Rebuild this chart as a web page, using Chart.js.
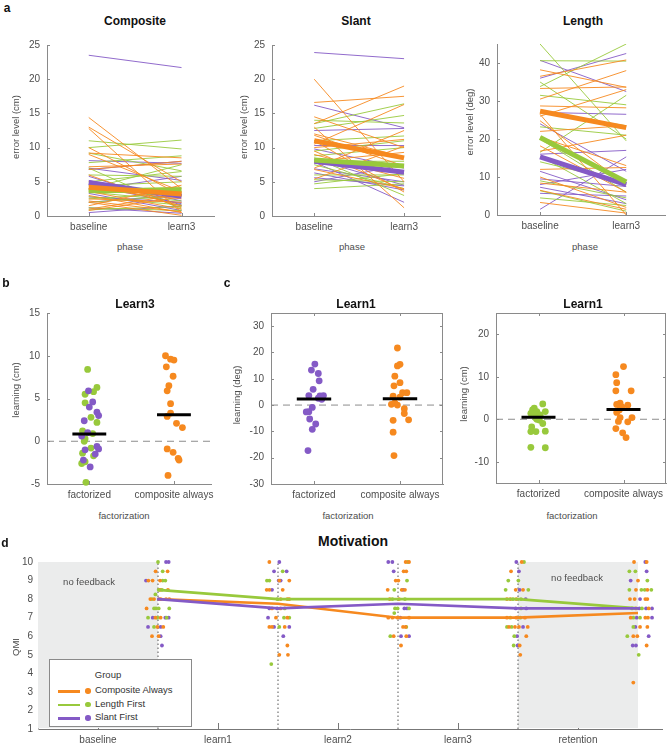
<!DOCTYPE html>
<html>
<head>
<meta charset="utf-8">
<script src="https://cdn.jsdelivr.net/npm/chart.js@4"></script>
<style>
  body { margin: 0; background: #fff; }
  #fig { position: relative; width: 670px; height: 745px; overflow: hidden; font-family: "Liberation Sans", Arial, sans-serif; }
  #fig canvas { position: absolute; }
  .t { position: absolute; white-space: nowrap; transform: translate(-50%, -50%); color: #4d4d4d; font-size: 9.5px; }
  .title { font-weight: bold; font-size: 12px; color: #111; }
  .big { font-size: 14px; }
  .letter { font-weight: bold; font-size: 12px; color: #111; }
  .rot { transform: translate(-50%, -50%) rotate(-90deg); }
  #legend { position: absolute; left: 49px; top: 659px; width: 141px; height: 66px; border: 1px solid #8a8a8a; background: #fff; font-size: 9.5px; color: #333; }
  #legend .row { position: absolute; left: 0; height: 12px; }
  #legend .ln { position: absolute; left: 8px; top: 5px; width: 22px; height: 2.5px; }
  #legend .dt { position: absolute; left: 35px; top: 3px; width: 5.5px; height: 5.5px; border-radius: 50%; }
  #legend .lb { position: absolute; left: 45px; top: -1px; white-space: nowrap; }
</style>
</head>
<body>
<div id="fig"></div>
<script>
// colours used across the figure
const ORANGE = '#F6891F', GREEN = '#98C93C', PURPLE = '#845AC6';
const AXIS = '#8a8a8a', SHADE = '#EBECEC';
const FONT = '"Liberation Sans", Arial, sans-serif';

// ---------- a: error level, baseline -> learn3 ----------
const phaseLabels = ['baseline', 'learn3'];
const cmTicks = [0, 5, 10, 15, 20, 25];
const degTicks = [0, 10, 20, 30, 40];

const compOrangeBase = [14.4, 13.0, 12.8, 10.0, 9.2, 7.2, 6.8, 5.0, 4.0, 3.0, 2.5, 2.0, 1.5, 1.0, 0.8, 6.0, 9.0, 3.6, 2.2];
const compOrangeL3   = [4.0, 5.0, 0.5, 3.0, 8.5, 7.6, 8.0, 1.5, 2.5, 0.5, 2.0, 0.1, 4.5, 3.2, 2.8, 1.2, 3.6, 1.0, 0.6];
const compGreenBase  = [11.0, 10.0, 9.2, 7.8, 7.0, 6.0, 5.0, 4.4, 3.8, 3.5, 2.8, 2.0, 1.2, 0.9, 4.0, 2.5];
const compGreenL3    = [9.8, 11.1, 6.6, 8.8, 1.0, 5.8, 6.5, 5.0, 4.2, 2.2, 1.6, 3.0, 0.8, 1.4, 7.5, 3.4];
const compPurpleBase = [23.5, 8.1, 6.8, 7.0, 5.2, 4.5, 3.3, 2.8, 2.0, 1.2, 0.5, 3.8, 5.8];
const compPurpleL3   = [21.7, 7.7, 8.0, 5.2, 2.2, 1.8, 0.8, 2.0, 3.1, 0.4, 1.5, 5.8, 1.6];
const compMeans = { orange: [4.2, 3.2], green: [3.7, 3.8], purple: [4.9, 2.9] };

const slantOrangeBase = [20.0, 16.6, 14.5, 13.5, 13.0, 11.8, 10.5, 9.5, 8.0, 7.0, 6.8, 5.4, 12.0, 9.0, 11.0, 10.0];
const slantOrangeL3   = [5.0, 17.5, 10.0, 19.0, 1.2, 7.3, 16.3, 3.8, 9.3, 12.5, 4.0, 10.2, 8.6, 5.5, 3.5, 11.2];
const slantGreenBase  = [14.0, 13.5, 12.8, 11.0, 8.8, 8.0, 6.0, 5.3, 4.0, 4.7, 7.5, 9.5, 8.5];
const slantGreenL3    = [13.6, 16.4, 14.7, 11.7, 10.0, 8.0, 6.0, 5.0, 4.7, 6.2, 4.0, 11.0, 3.0];
const slantPurpleBase = [23.9, 16.2, 8.3, 7.9, 6.3, 5.6, 9.8, 12.5, 10.3, 6.9, 5.0];
const slantPurpleL3   = [23.0, 12.9, 4.5, 2.0, 3.8, 4.4, 7.0, 12.8, 10.3, 5.0, 7.5];
const slantMeans = { orange: [11.0, 8.5], green: [8.2, 7.3], purple: [8.0, 6.4] };

const lenOrangeBase = [38.2, 36.5, 33.3, 30.5, 28.7, 26.5, 24.8, 22.0, 18.2, 16.8, 12.0, 10.0, 8.4, 3.3, 6.5, 26.0, 20.5];
const lenOrangeL3   = [33.6, 40.8, 33.7, 38.0, 28.2, 0.0, 8.0, 23.5, 6.0, 21.0, 12.5, 2.0, 6.0, 0.5, 1.5, 33.0, 13.0];
const lenGreenBase  = [40.6, 33.8, 31.5, 27.0, 23.2, 20.0, 15.5, 14.0, 9.0, 6.4, 4.5, 35.0, 16.5, 45.0];
const lenGreenL3    = [40.5, 45.0, 29.0, 23.5, 21.0, 6.0, 3.0, 8.5, 4.5, 1.0, 2.5, 20.0, 31.5, 19.5];
const lenPurpleBase = [40.7, 36.0, 27.0, 24.0, 16.0, 11.5, 9.5, 7.3, 5.7, 1.5, 8.0];
const lenPurpleL3   = [32.5, 42.5, 26.5, 11.5, 17.0, 4.0, 7.5, 3.0, 5.0, 15.3, 12.0];
const lenMeans = { orange: [27.3, 23.0], green: [20.4, 8.7], purple: [15.3, 8.0] };

// ---------- b / c: learning per factorization group ----------
const groupLabels = ['factorized', 'composite always'];

const l3FactGreen      = [8.4, 5.5, 6.3, 5.8, 4.5, 2.8, 2.2, 1.2, 0.9, 0.3, 0.0, -0.8, -1.4, -1.7, -2.4, -2.6, -4.8];
const l3FactGreenJit   = [-0.02, -0.05, 0.09, 0.05, -0.05, 0.02, 0.09, -0.08, 0.04, -0.05, -0.06, 0.02, -0.08, 0.05, -0.05, -0.09, -0.04];
const l3FactPurple     = [5.9, 4.0, 4.6, 3.4, 3.0, 2.4, 1.0, 0.6, -0.6, -0.9, -1.0, -1.5, -2.2, -3.0];
const l3FactPurpleJit  = [-0.01, 0.0, 0.04, 0.09, 0.11, -0.06, -0.02, -0.09, 0.09, 0.11, -0.05, 0.07, -0.07, 0.01];
const l3Comp           = [10.0, 9.6, 9.5, 8.7, 7.6, 6.5, 5.9, 4.4, 3.3, 2.9, 2.1, 1.6, -0.9, -1.3, -2.0, -2.2, -4.0];
const l3CompJit        = [-0.10, -0.04, 0.0, -0.09, -0.01, -0.06, -0.08, -0.04, -0.04, -0.08, 0.03, 0.10, -0.08, -0.01, 0.05, 0.06, -0.07];
const l3Means          = [0.85, 3.1];
const l3Ticks          = [-5, 0, 5, 10, 15];

const l1DegFact     = [15.6, 13.3, 12.0, 9.2, 6.0, 3.6, 3.5, 3.6, 2.6, 2.2, -0.9, -2.5, -2.6, -5.3, -7.2, -9.2, -17.3];
const l1DegFactJit  = [0.01, -0.03, 0.05, 0.06, -0.01, -0.06, 0.07, 0.11, 0.05, 0.09, -0.02, -0.06, -0.09, -0.05, 0.02, -0.02, -0.07];
const l1DegComp     = [21.7, 15.5, 14.9, 11.0, 8.5, 7.3, 4.7, 4.7, 3.4, 3.0, 0.8, 0.3, 0.0, -1.4, -3.2, -5.6, -5.8, -10.3, -19.2];
const l1DegCompJit  = [-0.03, 0.0, -0.03, -0.06, 0.0, -0.07, 0.03, 0.08, -0.08, 0.0, -0.06, -0.10, -0.03, 0.05, 0.05, 0.10, -0.08, -0.08, -0.07];
const l1DegMeans    = [2.3, 2.4];
const l1DegTicks    = [-30, -20, -10, 0, 10, 20, 30];

const l1CmFact     = [3.6, 2.6, 2.2, 1.8, 1.8, 1.4, 1.2, 1.0, 0.6, 0.3, 0.0, -0.2, -1.0, -1.8, -2.8, -2.9, -2.9, -6.6, -6.7];
const l1CmFactJit  = [0.05, -0.05, -0.07, 0.08, -0.02, -0.09, -0.05, 0.02, 0.0, -0.03, -0.02, 0.01, 0.05, -0.08, 0.08, -0.09, -0.03, -0.09, 0.08];
const l1CmComp     = [12.4, 10.5, 8.6, 6.7, 6.7, 3.8, 3.5, 3.3, 2.9, 2.2, 1.6, 0.4, 0.4, -0.5, -0.6, -2.2, -3.2, -4.3];
const l1CmCompJit  = [0.0, -0.09, -0.08, -0.09, 0.09, -0.04, -0.08, 0.05, -0.02, -0.05, -0.08, -0.04, 0.10, -0.06, 0.05, -0.09, -0.01, 0.03];
const l1CmMeans    = [0.5, 2.3];
const l1CmTicks    = [-10, 0, 10, 20];

// ---------- d: motivation (QMI) per phase ----------
const motivPhases = ['baseline', 'learn1', 'learn2', 'learn3', 'retention'];
const motivTickPos = [0.5, 1.5, 2.5, 3.5, 4.5];
const qmiTicks = [1, 2, 3, 4, 5, 6, 7, 8, 9, 10];
const boundaries = [1, 2, 3, 4];
const noFeedback = [[0, 1], [4, 5]];
const meanPhase = [1, 2, 3, 4, 5];
const motivOrange = [8, 7.75, 7, 7, 7.25];
const motivGreen  = [8.5, 8, 8, 8, 7.5];
const motivPurple = [8, 7.5, 7.75, 7.5, 7.5];
// [phase, QMI, jitter]
const qmiOrange = [
  [1, 9.5, -0.02], [1, 9.5, 0.08], [1, 9, -0.08], [1, 9, -0.045], [1, 9, 0.017], [1, 8.5, 0.017], [1, 8.5, 0.083],
  [1, 8, -0.064], [1, 8, -0.033], [1, 8, 0.022], [1, 8, 0.067], [1, 8, 0.094], [1, 7.5, -0.095], [1, 7, -0.022],
  [1, 7, 0.022], [1, 6.5, -0.005], [1, 6.5, 0.044], [1, 6, -0.05], [1, 6, 0.005],
  [2, 10, -0.072], [2, 9, 0.011], [2, 9, 0.094], [2, 8.5, -0.094], [2, 8.5, -0.072], [2, 8.5, 0.039], [2, 8, 0.022],
  [2, 8, 0.078], [2, 8, 0.094], [2, 7.5, -0.05], [2, 7.5, 0.022], [2, 7, -0.017], [2, 7, 0.078], [2, 6.5, -0.072],
  [2, 6.5, -0.05], [2, 6.5, 0.056], [2, 5.5, 0.078], [2, 5, 0.011], [2, 5, 0.083],
  [3, 10, 0.064], [3, 10, 0.092], [3, 9.5, 0.047], [3, 9.5, 0.069], [3, 9, -0.019], [3, 9, 0.003], [3, 8.5, -0.086],
  [3, 8.5, 0.031], [3, 8.5, 0.058], [3, 8, -0.069], [3, 8, 0.008], [3, 7, -0.081], [3, 7, -0.047], [3, 7, -0.003],
  [3, 7, 0.092], [3, 6.5, 0.042], [3, 6.5, 0.064], [3, 6, -0.036], [3, 6, 0.069], [3, 5.5, 0.025],
  [4, 10, 0.031], [4, 9.5, -0.058], [4, 8.5, -0.019], [4, 8.5, 0.042], [4, 8, -0.092], [4, 8, -0.064], [4, 8, -0.014],
  [4, 7, -0.092], [4, 7, -0.014], [4, 7, 0.058], [4, 6.5, -0.075], [4, 6.5, -0.025], [4, 6.5, 0.008], [4, 6.5, 0.081],
  [4, 6, 0.069], [4, 5.5, 0.014], [4, 5, 0.019],
  [5, 10, -0.033], [5, 10, 0.072], [5, 9, 0.0], [5, 8.5, -0.017], [5, 8.5, 0.078], [5, 8, -0.067], [5, 8, -0.028],
  [5, 8, 0.061], [5, 8, 0.078], [5, 7.5, -0.017], [5, 7.5, 0.089], [5, 7, -0.061], [5, 7, 0.061], [5, 7, 0.083],
  [5, 6.5, 0.017], [5, 6.5, 0.078], [5, 6, -0.039], [5, 6, -0.006], [5, 5.5, 0.072], [5, 3.5, -0.039]
];
const qmiGreen = [
  [1, 10, 0], [1, 9.5, 0.039], [1, 9, 0.039], [1, 9, 0.061], [1, 8.5, 0.006], [1, 8.5, 0.033], [1, 8.25, -0.022],
  [1, 8, -0.05], [1, 7.5, -0.033], [1, 7.5, -0.017], [1, 7.5, 0.006], [1, 7.5, 0.094], [1, 7, -0.083], [1, 7, -0.006],
  [1, 7, 0.072], [1, 6.5, -0.033],
  [2, 9.5, 0.039], [2, 9, -0.092], [2, 9, -0.072], [2, 8, -0.006], [2, 7.5, 0.056], [2, 7, 0.05], [2, 7, 0.094],
  [2, 6.5, 0.011], [2, 4.5, -0.056],
  [3, 10, 0.081], [3, 9, 0.075], [3, 8.5, -0.031], [3, 8, -0.047], [3, 8, 0.058], [3, 7.5, -0.025], [3, 7.5, -0.003],
  [3, 7.5, 0.092], [3, 7.25, -0.031], [3, 6.5, 0.069], [3, 6, -0.064],
  [4, 10, 0.05], [4, 9, -0.081], [4, 9, 0.003], [4, 8.5, -0.103], [4, 8.5, 0.086], [4, 8, -0.042], [4, 8, 0.025],
  [4, 7.5, 0.025], [4, 7, -0.064], [4, 7, 0.019], [4, 6.5, -0.092], [4, 6.5, -0.053], [4, 6, -0.031], [4, 5.5, -0.036],
  [5, 9.5, -0.072], [5, 9.5, -0.022], [5, 9, 0.078], [5, 8.5, -0.072], [5, 8.5, 0.028], [5, 8.5, 0.056], [5, 8.5, 0.111],
  [5, 7.5, -0.05], [5, 7.5, 0.033], [5, 7, -0.039], [5, 7, 0.017], [5, 6.5, -0.039], [5, 6, -0.089], [5, 5, 0.006]
];
const qmiPurple = [
  [1, 10, 0.067], [1, 10, 0.089], [1, 9, -0.1], [1, 8, 0.006], [1, 7, -0.044], [1, 7, 0.061], [1, 7, 0.089],
  [1, 6.5, -0.083], [1, 6.5, 0.022], [1, 6, 0.022], [1, 5.5, 0.033],
  [2, 10, 0.011], [2, 9.5, -0.033], [2, 9.5, 0.072], [2, 9, 0.022], [2, 9, 0.006], [2, 8.5, -0.05], [2, 7.5, -0.072],
  [2, 7.5, -0.006], [2, 7, -0.083], [2, 6.5, -0.033], [2, 6.5, 0.094], [2, 6, 0.044],
  [3, 10, -0.081], [3, 10, -0.047], [3, 9.5, -0.036], [3, 8.5, 0.042], [3, 7.5, 0.053], [3, 7.5, 0.075], [3, 7, 0.019],
  [3, 6, 0.025], [3, 6, 0.092],
  [4, 10, -0.014], [4, 9.5, 0.008], [4, 8.5, 0.014], [4, 8, 0.064], [4, 7.5, -0.019], [4, 7.5, 0.069], [4, 6.5, 0.042],
  [4, 6, -0.008], [4, 5.5, -0.003],
  [5, 10, 0.061], [5, 9.5, 0.072], [5, 9, -0.061], [5, 8, 0.017], [5, 7.5, 0.011], [5, 7.5, 0.067], [5, 7.5, 0.117],
  [5, 7, -0.011], [5, 7, 0.117], [5, 6.5, -0.022], [5, 6, 0.089], [5, 5.5, -0.044], [5, 5.5, -0.017]
];
const legendGroups = [['Composite Always', ORANGE], ['Length First', GREEN], ['Slant First', PURPLE]];

const fig = document.getElementById('fig');
const BAR_HALF = 0.2;

function text(str, x, y, cls) {
  const d = document.createElement('div');
  d.className = 't ' + (cls || '');
  d.textContent = str;
  d.style.left = x + 'px';
  d.style.top = y + 'px';
  fig.appendChild(d);
}

// subject lines: pairs of points broken by a null
function pairs(base, l3) {
  const pts = [];
  base.forEach((b, i) => pts.push({ x: 1, y: b }, { x: 2, y: l3[i] }, { x: 1.5, y: null }));
  return pts;
}
const jittered = (cat, vals, jit) => vals.map((v, i) => ({ x: cat + jit[i], y: v }));
const meanBar = (cat, m) => [{ x: cat - BAR_HALF, y: m }, { x: cat + BAR_HALF, y: m }];

function lineSet(data, color, width, order, dash) {
  return { data, showLine: true, borderColor: color, borderWidth: width, pointRadius: 0,
           borderDash: dash || [], borderCapStyle: 'butt', order };
}
function dotSet(data, color, r, order) {
  return { data, pointRadius: r, pointBackgroundColor: color, pointBorderWidth: 0, borderColor: color,
           order, clip: false };
}

function axis(min, max, ticks, labels, pad) {
  return {
    type: 'linear', min, max,
    afterBuildTicks: s => { s.ticks = ticks.map(v => ({ value: v })); },
    ticks: { autoSkip: false, maxRotation: 0, padding: pad, color: '#4d4d4d',
             font: { family: FONT, size: 10 },
             callback: (v, i) => labels ? labels[i] : String(v) },
    grid: { display: false, drawTicks: false },
    border: { display: true, color: AXIS, width: 1 }
  };
}

// small inward tick marks, optionally a full box (matlab style)
function frame(box) {
  return {
    id: 'frame',
    afterDatasetsDraw(chart) {
      const { ctx, chartArea: a, scales: { x, y } } = chart;
      ctx.save();
      ctx.strokeStyle = AXIS; ctx.lineWidth = 1;
      ctx.beginPath();
      y.ticks.forEach(t => {
        const py = Math.round(y.getPixelForValue(t.value)) + 0.5;
        ctx.moveTo(a.left, py); ctx.lineTo(a.left + 3, py);
        if (box) { ctx.moveTo(a.right, py); ctx.lineTo(a.right - 3, py); }
      });
      x.ticks.forEach(t => {
        const px = Math.round(x.getPixelForValue(t.value)) + 0.5;
        ctx.moveTo(px, a.bottom); ctx.lineTo(px, a.bottom - 3);
        if (box) { ctx.moveTo(px, a.top); ctx.lineTo(px, a.top + 3); }
      });
      ctx.stroke();
      if (box) ctx.strokeRect(Math.round(a.left) + 0.5, Math.round(a.top) + 0.5,
                              Math.round(a.right - a.left) - 1, Math.round(a.bottom - a.top));
      ctx.restore();
    }
  };
}

// box = canvas rect, area = plot rect (page coords)
function build(box, area, xs, ys, datasets, plugins) {
  const cv = document.createElement('canvas');
  cv.width = box.w; cv.height = box.h;
  cv.style.left = box.x + 'px'; cv.style.top = box.y + 'px';
  cv.style.width = box.w + 'px'; cv.style.height = box.h + 'px';
  fig.appendChild(cv);
  xs.afterFit = s => { s.height = box.y + box.h - area.y1; };
  ys.afterFit = s => { s.width = area.x0 - box.x; };
  return new Chart(cv, {
    type: 'scatter',
    data: { datasets },
    options: {
      responsive: false, animation: false, devicePixelRatio: 1,
      layout: { padding: { left: 0, bottom: 0, top: area.y0 - box.y, right: box.x + box.w - area.x1 } },
      plugins: { legend: { display: false }, tooltip: { enabled: false } },
      scales: { x: xs, y: ys }
    },
    plugins: plugins || []
  });
}

function errorPanel(box, area, xr, yMax, yTicks, o, g, p, means) {
  build(box, area,
    axis(xr[0], xr[1], [1, 2], phaseLabels, 5),
    axis(0, yMax, yTicks, null, 7),
    [
      lineSet(pairs(p[0], p[1]), PURPLE, 0.9, 5),
      lineSet(pairs(g[0], g[1]), GREEN, 0.9, 4),
      lineSet(pairs(o[0], o[1]), ORANGE, 0.9, 3),
      lineSet([{ x: 1, y: means.orange[0] }, { x: 2, y: means.orange[1] }], ORANGE, 5, 0),
      lineSet([{ x: 1, y: means.green[0] }, { x: 2, y: means.green[1] }], GREEN, 5, 1),
      lineSet([{ x: 1, y: means.purple[0] }, { x: 2, y: means.purple[1] }], PURPLE, 5, 2)
    ], [frame(false)]);
}

errorPanel({ x: 0, y: 30, w: 220, h: 210 }, { x0: 47, x1: 214, y0: 45, y1: 216 }, [0.55, 2.35], 25, cmTicks,
  [compOrangeBase, compOrangeL3], [compGreenBase, compGreenL3], [compPurpleBase, compPurpleL3], compMeans);
errorPanel({ x: 222, y: 30, w: 222, h: 210 }, { x0: 272, x1: 440, y0: 45, y1: 216 }, [0.53, 2.4], 25, cmTicks,
  [slantOrangeBase, slantOrangeL3], [slantGreenBase, slantGreenL3], [slantPurpleBase, slantPurpleL3], slantMeans);
errorPanel({ x: 447, y: 30, w: 223, h: 210 }, { x0: 497, x1: 665, y0: 44, y1: 215 }, [0.5, 2.45], 45, degTicks,
  [lenOrangeBase, lenOrangeL3], [lenGreenBase, lenGreenL3], [lenPurpleBase, lenPurpleL3], lenMeans);

function learnPanel(box, area, xr, yr, yTicks, factSets, compSet, means, boxed) {
  build(box, area,
    axis(xr[0], xr[1], [1, 2], groupLabels, 5),
    axis(yr[0], yr[1], yTicks, null, 7),
    [
      lineSet([{ x: xr[0], y: 0 }, { x: xr[1], y: 0 }], '#8c8c8c', 1, 3, [7, 5]),
      ...factSets,
      compSet,
      lineSet(meanBar(1, means[0]), '#000', 3, 0),
      lineSet(meanBar(2, means[1]), '#000', 3, 0)
    ], [frame(boxed)]);
}

learnPanel({ x: 0, y: 300, w: 220, h: 205 }, { x0: 47, x1: 213, y0: 313, y1: 484 }, [0.5, 2.44], [-5, 15], l3Ticks,
  [dotSet(jittered(1, l3FactGreen, l3FactGreenJit), GREEN, 3.4, 2),
   dotSet(jittered(1, l3FactPurple, l3FactPurpleJit), PURPLE, 3.4, 1)],
  dotSet(jittered(2, l3Comp, l3CompJit), ORANGE, 3.4, 1), l3Means, false);
learnPanel({ x: 222, y: 300, w: 225, h: 205 }, { x0: 271, x1: 443, y0: 312, y1: 484 }, [0.5, 2.5], [-30, 35], l1DegTicks,
  [dotSet(jittered(1, l1DegFact, l1DegFactJit), PURPLE, 3.4, 1)],
  dotSet(jittered(2, l1DegComp, l1DegCompJit), ORANGE, 3.4, 1), l1DegMeans, true);
learnPanel({ x: 447, y: 300, w: 223, h: 205 }, { x0: 496, x1: 668, y0: 312, y1: 483 }, [0.5, 2.5], [-15, 25], l1CmTicks,
  [dotSet(jittered(1, l1CmFact, l1CmFactJit), GREEN, 3.4, 1)],
  dotSet(jittered(2, l1CmComp, l1CmCompJit), ORANGE, 3.4, 1), l1CmMeans, true);

// ---------- d ----------
const toPts = arr => arr.map(([p, q, j]) => ({ x: p + j, y: q }));
const meanLine = vals => vals.map((v, i) => ({ x: meanPhase[i], y: v }));
const dotted = [];
boundaries.forEach(b => dotted.push({ x: b, y: 1 }, { x: b, y: 10 }, { x: b, y: null }));

const shading = {
  id: 'shading',
  beforeDatasetsDraw(chart) {
    const { ctx, chartArea: a, scales: { x, y } } = chart;
    ctx.save();
    ctx.strokeStyle = '#777'; ctx.lineWidth = 1;
    ctx.beginPath();
    motivTickPos.forEach(v => {
      const px = Math.round(x.getPixelForValue(v)) + 0.5;
      ctx.moveTo(px, a.bottom); ctx.lineTo(px, a.bottom - 6);
    });
    ctx.stroke();
    ctx.fillStyle = SHADE;
    noFeedback.forEach(([s, e]) => {
      const x0 = x.getPixelForValue(s), x1 = x.getPixelForValue(e);
      const y0 = y.getPixelForValue(10), y1 = y.getPixelForValue(1);
      ctx.fillRect(x0, y0, x1 - x0, y1 - y0 - 1);
    });
    ctx.restore();
  }
};

const dAxisX = axis(0, 5.2, motivTickPos, motivPhases, 5);
dAxisX.border.color = '#777';
const dAxisY = axis(1, 10, qmiTicks, null, 5);
dAxisY.border.color = '#bbb';
build({ x: 0, y: 550, w: 670, h: 195 }, { x0: 38, x1: 662, y0: 562, y1: 729 }, dAxisX, dAxisY, [
  lineSet(dotted, '#555', 1, 3, [1.5, 2.5]),
  dotSet(toPts(qmiOrange), ORANGE, 1.9, 2),
  dotSet(toPts(qmiGreen), GREEN, 1.9, 2),
  dotSet(toPts(qmiPurple), PURPLE, 1.9, 2),
  lineSet(meanLine(motivGreen), GREEN, 2.6, 1),
  lineSet(meanLine(motivPurple), PURPLE, 2.6, 0),
  lineSet(meanLine(motivOrange), ORANGE, 2.6, 0)
], [shading]);

// ---------- text ----------
text('a', 7, 8, 'letter');
text('Composite', 135, 21, 'title');
text('Slant', 356, 21, 'title');
text('Length', 583, 21, 'title');
text('error level (cm)', 15, 127, 'rot');
text('error level (cm)', 243, 127, 'rot');
text('error level (deg)', 469, 122, 'rot');
text('phase', 130, 246);
text('phase', 352, 246);
text('phase', 585, 246);

text('b', 6, 283, 'letter');
text('c', 227, 283, 'letter');
text('Learn3', 135, 304, 'title');
text('Learn1', 356, 304, 'title');
text('Learn1', 583, 304, 'title');
text('learning (cm)', 15, 390, 'rot');
text('learning (deg)', 236, 395, 'rot');
text('learning (cm)', 463, 394, 'rot');
text('factorization', 124, 515);
text('factorization', 348, 515);
text('factorization', 572, 515);

text('d', 5, 543, 'letter');
text('Motivation', 353, 541, 'title big');
text('QMI', 15, 647, 'rot');
text('no feedback', 89, 581);
text('no feedback', 577, 577);

const leg = document.createElement('div');
leg.id = 'legend';
leg.innerHTML = '<div class="t" style="left:58px;top:14px;color:#333">Group</div>';
legendGroups.forEach(([name, color], i) => {
  const r = document.createElement('div');
  r.className = 'row';
  r.style.top = (25 + i * 13.5) + 'px';
  r.innerHTML = `<div class="ln" style="background:${color}"></div><div class="dt" style="background:${color}"></div><div class="lb">${name}</div>`;
  leg.appendChild(r);
});
fig.appendChild(leg);
</script>
</body>
</html>
